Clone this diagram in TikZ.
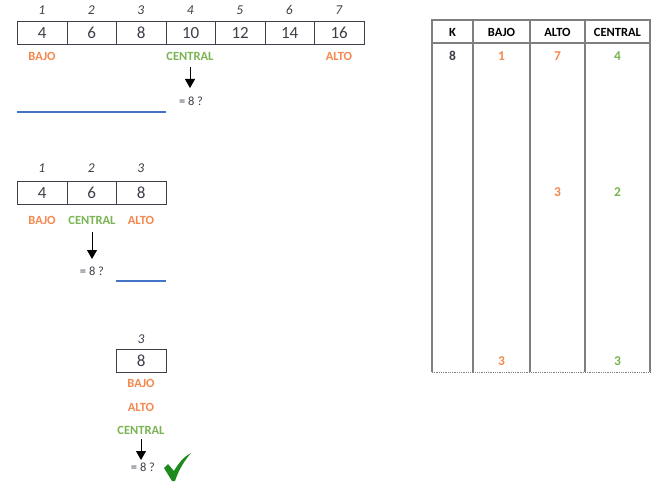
\documentclass[tikz,border=0pt]{standalone}
\usepackage{fontspec}
\setmainfont{Carlito}
\usetikzlibrary{arrows.meta}
\definecolor{ora}{HTML}{F4884F}
\definecolor{grn}{HTML}{79B552}
\definecolor{blu}{HTML}{4472C4}
\definecolor{txt}{HTML}{3F3F4A}
\definecolor{brd}{HTML}{7F7F7F}
\definecolor{chk}{HTML}{1E8A1E}
\tikzset{
  cellbox/.style={draw=txt, line width=0.9pt, minimum width=49.5pt, minimum height=22.5pt, inner sep=0pt, text=txt, font=\fontsize{17}{17}\selectfont, anchor=north west},
  idx/.style={text=txt, font=\fontsize{13.5}{14}\selectfont\itshape},
  lo/.style={text=ora, font=\fontsize{12.5}{13}\selectfont\bfseries},
  ce/.style={text=grn, font=\fontsize{12.5}{13}\selectfont\bfseries},
  qq/.style={text=txt, font=\fontsize{12.5}{13}\selectfont},
  arr/.style={-{Triangle[length=9pt,width=10pt]}, line width=0.8pt, black},
  bline/.style={blu, line width=1.3pt},
  thd/.style={text=black, font=\fontsize{12.5}{13}\selectfont\bfseries},
  tv/.style={font=\fontsize{13.5}{14}\selectfont\bfseries},
  tline/.style={brd, line width=1.2pt}
}
\begin{document}
\begin{tikzpicture}[x=1pt,y=-1pt]
\useasboundingbox[fill=white] (0,0) rectangle (666,489);
% ---- top array
\foreach \v [count=\i] in {4,6,8,10,12,14,16} {
  \node[cellbox] (a\i) at ({17+(\i-1)*49.5},21.5) {\v};
  \node[idx] (ai\i) at ({41.75+(\i-1)*49.5},10) {\i};
}
\node[lo] (b1) at (42,56) {BAJO};
\node[ce] (c1) at (190,56) {CENTRAL};
\node[lo] (h1) at (339,56) {ALTO};
\coordinate (s1) at (190,67);
\node[qq] (q1) at (191,101) {= 8 ?};
\draw[arr] (s1) -- (190,88);
\coordinate (l1a) at (17,112);
\coordinate (l1b) at (166,112);
\draw[bline] (l1a) -- (l1b);
% ---- second array
\foreach \v [count=\i] in {4,6,8} {
  \node[cellbox] (d\i) at ({17+(\i-1)*49.5},181) {\v};
  \node[idx] (di\i) at ({41.75+(\i-1)*49.5},168) {\i};
}
\node[lo] (b2) at (42,220) {BAJO};
\node[ce] (c2) at (92,220) {CENTRAL};
\node[lo] (h2) at (141,220) {ALTO};
\coordinate (s2) at (92,232);
\node[qq] (q2) at (92,271) {= 8 ?};
\draw[arr] (s2) -- (92,259);
\coordinate (l2a) at (116,281);
\coordinate (l2b) at (166,281);
\draw[bline] (l2a) -- (l2b);
% ---- third array
\node[cellbox] (e1) at (116,349) {8};
\node[idx] (ei1) at (141,339) {3};
\node[lo] (b3) at (141,383) {BAJO};
\node[lo] (h3) at (141,407) {ALTO};
\node[ce] (c3) at (141,430) {CENTRAL};
\coordinate (s3) at (141,439);
\node[qq] (q3) at (143,467) {= 8 ?};
\draw[arr] (s3) -- (141,460);
\fill[chk] (164,468) -- (168,464) -- (174,471) .. controls (179,462) and (185,456) .. (191,453)
  .. controls (185,460) and (179,469) .. (175,481) -- (172,481) -- cycle;
% ---- table
\draw[tline] (432,372) -- (432,20) -- (650,20) -- (650,372);
\draw[tline] (473,20) -- (473,372);
\draw[tline] (530,20) -- (530,372);
\draw[tline] (585,20) -- (585,372);
\draw[tline] (432,43) -- (650,43);
\draw[brd, line width=1pt, dash pattern=on 1pt off 0.8pt] (432,372) -- (650,372);
\node[thd] (hk) at (452.5,32) {K};
\node[thd] (hb) at (501.5,32) {BAJO};
\node[thd] (ha) at (557.5,32) {ALTO};
\node[thd] (hc) at (617.5,32) {CENTRAL};
\node[tv, text=txt] (k1) at (452.5,56) {8};
\node[tv, text=ora] (vb1) at (501.5,56) {1};
\node[tv, text=ora] (va1) at (557.5,56) {7};
\node[tv, text=grn] (vc1) at (617.5,56) {4};
\node[tv, text=ora] (va2) at (557.5,192) {3};
\node[tv, text=grn] (vc2) at (617.5,192) {2};
\node[tv, text=ora] (vb3) at (501.5,361) {3};
\node[tv, text=grn] (vc3) at (617.5,361) {3};
\end{tikzpicture}
\end{document}
